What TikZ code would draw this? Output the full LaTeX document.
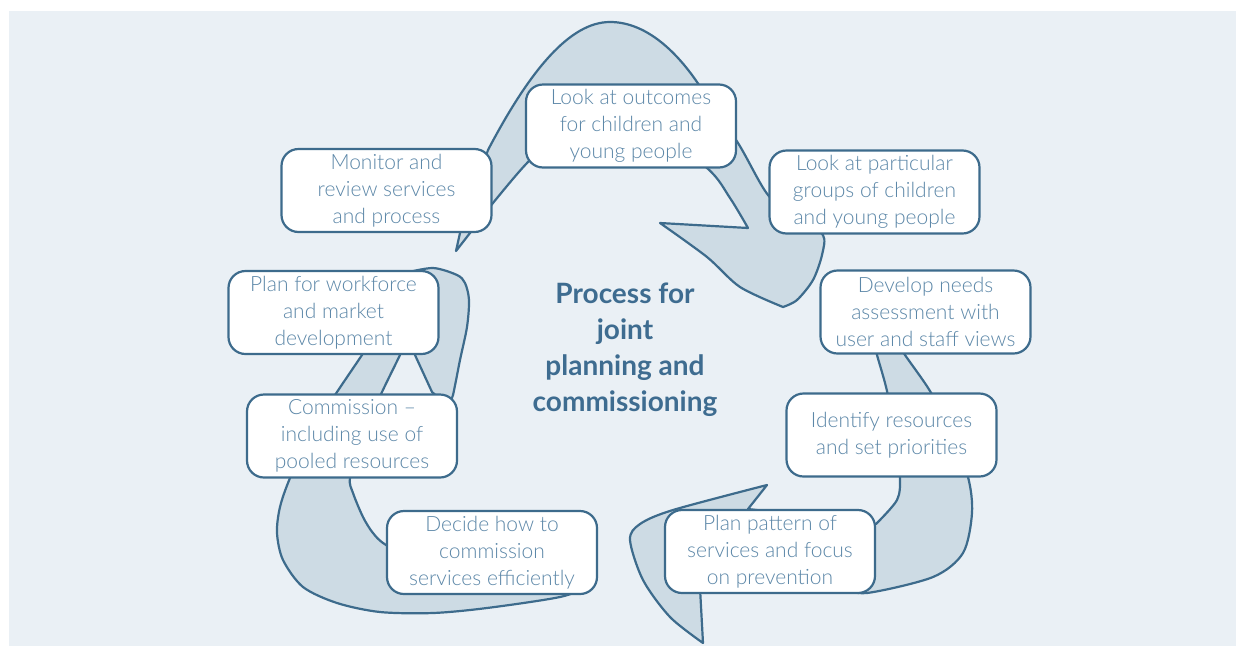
\documentclass[tikz,border=0pt]{standalone}
\usepackage{fontspec}
\IfFontExistsTF{Lato Light}{\setmainfont{Lato Light}[BoldFont={Lato Bold}]}{\setmainfont{Lato}}
\definecolor{bgcol}{RGB}{234,240,245}
\definecolor{fillcol}{RGB}{205,219,228}
\definecolor{linecol}{RGB}{61,107,140}
\definecolor{textcol}{RGB}{92,135,168}
\definecolor{titlecol}{RGB}{62,108,144}
\begin{document}
\begin{tikzpicture}[x=1pt,y=-1pt,
  band/.style={fill=fillcol,draw=linecol,line width=2.2pt,line join=round},
  stage/.style={draw=linecol,fill=white,line width=2.2pt,rounded corners=17pt,
    minimum width=210pt,minimum height=83pt,inner sep=0pt,align=center,
    text=textcol,font=\fontsize{21}{27}\selectfont}]
\useasboundingbox (0,0) rectangle (1236,646);
\fill[bgcol] (9,11) rectangle (1236,646);
% top arrow
\draw[band] (456,251) -- (460,233) -- (488,150)
  .. controls (530,70) and (570,22) .. (610,22)
  .. controls (645,22) and (675,50) .. (697,82)
  -- plot[smooth] coordinates {(697,82) (738,143) (768,195) (800,222) (823,235) (822,255) (813,280) (797,300) (783,307)}
  -- plot[smooth] coordinates {(783,307) (740,287) (707,257) (660,223)}
  -- (748,228)
  -- plot[smooth] coordinates {(748,228) (730,198) (707,168) (640,120) (560,135) (528,162) (493,203) (470,233)}
  -- cycle;
% right arrow
\draw[band] (872,335) -- plot[smooth] coordinates {(872,335) (877,355) (887,391) (896,440) (900,477) (897,500) (876,524)}
  -- (748,509) -- (767,485)
  -- plot[smooth] coordinates {(767,485) (673,510) (640,524) (630,540) (643,580) (670,617) (703,643)}
  -- (700,588) -- (840,588)
  -- plot[smooth] coordinates {(840,588) (867,593) (933,577) (963,553) (972,513) (968,477) (950,430) (930,391) (905,355) (892,335)}
  -- cycle;
% left arrow
\draw[band] (590,586) -- plot[smooth] coordinates {(590,586) (560,597) (487,608) (433,613) (380,612) (337,603) (303,587) (283,560) (277,533) (280,507) (290,478) (312,430) (337,392) (362,355) (382,325)}
  -- (414,325)
  -- plot[smooth] coordinates {(414,325) (400,355) (382,392) (360,440) (350,478) (353,493) (363,517) (373,533) (386,545) (430,570) (520,580)}
  -- cycle;
\draw[band] (404,330) -- (415,355) -- (432,392) -- (446,404)
  -- plot[smooth] coordinates {(450,400) (453,395) (460,360) (467,327) (469,300) (465,283) (457,275) (433,268) (405,273)}
  -- cycle;
% stages
\node[stage] (outcomes) at (631,126) {Look at outcomes\\for children and\\young people};
\node[stage] (groups) at (874.5,192) {Look at particular\\groups of children\\and young people};
\node[stage] (needs) at (925.5,312) {Develop needs\\assessment with\\user and staff views};
\node[stage] (resources) at (891.5,435) {Identify resources\\and set priorities};
\node[stage] (pattern) at (770,551.5) {Plan pattern of\\services and focus\\on prevention};
\node[stage] (decide) at (492,552.5) {Decide how to\\commission\\services efficiently};
\node[stage] (commission) at (352,436) {Commission –\\including use of\\pooled resources};
\node[stage] (workforce) at (333.5,312.5) {Plan for workforce\\and market\\development};
\node[stage] (monitor) at (386.5,190.5) {Monitor and\\review services\\and process};
\node[align=center,text=titlecol,font=\bfseries\fontsize{28}{36}\selectfont] (title) at (625,350) {Process for\\joint\\planning and\\commissioning};
\end{tikzpicture}
\end{document}
